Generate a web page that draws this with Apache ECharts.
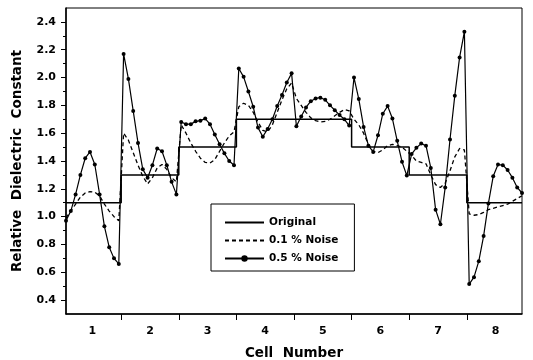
<!DOCTYPE html>
<html>
<head>
<meta charset="utf-8">
<script src="https://cdn.jsdelivr.net/npm/echarts@6/dist/echarts.min.js"></script>
<style>
  html, body { margin: 0; padding: 0; background: #fff; }
  #chart { width: 533px; height: 360px; }
</style>
</head>
<body>
<div id="chart"></div>
<script>
// ---- data ----
const cells = ['1', '2', '3', '4', '5', '6', '7', '8'];
const pointsPerCell = 12;
const originalLevels = [1.1, 1.3, 1.5, 1.7, 1.7, 1.5, 1.3, 1.1];
const noise01 = [
  0.99, 1.04, 1.09, 1.14, 1.17, 1.18, 1.175, 1.15, 1.09, 1.04, 1.00, 0.97,
  1.60, 1.55, 1.46, 1.37, 1.29, 1.235, 1.28, 1.35, 1.375, 1.34, 1.28, 1.25,
  1.66, 1.60, 1.53, 1.47, 1.42, 1.39, 1.385, 1.41, 1.47, 1.53, 1.58, 1.61,
  1.79, 1.815, 1.80, 1.75, 1.68, 1.62, 1.61, 1.66, 1.75, 1.84, 1.92, 1.96,
  1.85, 1.80, 1.75, 1.71, 1.69, 1.68, 1.685, 1.70, 1.725, 1.75, 1.77, 1.76,
  1.70, 1.66, 1.60, 1.52, 1.47, 1.46, 1.48, 1.51, 1.52, 1.51, 1.50, 1.47,
  1.44, 1.40, 1.39, 1.38, 1.30, 1.23, 1.21, 1.24, 1.33, 1.43, 1.49, 1.48,
  1.02, 1.01, 1.015, 1.03, 1.05, 1.06, 1.07, 1.08, 1.09, 1.11, 1.13, 1.15
];
const noise05 = [
  0.97, 1.04, 1.16, 1.30, 1.42, 1.465, 1.375, 1.16, 0.93, 0.78, 0.70, 0.66,
  2.17, 1.99, 1.76, 1.53, 1.34, 1.28, 1.37, 1.49, 1.47, 1.37, 1.25, 1.16,
  1.68, 1.665, 1.665, 1.685, 1.69, 1.705, 1.665, 1.59, 1.52, 1.455, 1.40, 1.37,
  2.065, 2.005, 1.90, 1.79, 1.64, 1.575, 1.63, 1.70, 1.795, 1.875, 1.965, 2.03,
  1.65, 1.72, 1.785, 1.83, 1.85, 1.855, 1.84, 1.80, 1.765, 1.73, 1.70, 1.655,
  2.00, 1.845, 1.645, 1.51, 1.465, 1.585, 1.74, 1.795, 1.705, 1.545, 1.395, 1.295,
  1.45, 1.495, 1.525, 1.51, 1.35, 1.05, 0.945, 1.21, 1.555, 1.87, 2.145, 2.33,
  0.515, 0.565, 0.68, 0.86, 1.095, 1.29, 1.375, 1.37, 1.335, 1.28, 1.21, 1.17
];
const yTickLabels = ['0.4', '0.6', '0.8', '1.0', '1.2', '1.4', '1.6', '1.8', '2.0', '2.2', '2.4'];
const seriesNames = ['Original', '0.1 % Noise', '0.5 % Noise'];

// ---- derived structures ----
const nPts = cells.length * pointsPerCell;
const xMax = nPts - 1;
const idx = (arr) => arr.map((v, i) => [i, v]);
const stepData = [];
originalLevels.forEach((lv, k) => {
  const x0 = Math.max(0, k * pointsPerCell - 0.5);
  const x1 = Math.min(xMax, k * pointsPerCell + pointsPerCell - 0.5);
  stepData.push([x0, lv], [x1, lv]);
});
const tickPos = cells.slice(1).map((c, k) => (k + 1) * pointsPerCell - 0.5);
const labelPos = cells.map((c, k) => k * pointsPerCell + (pointsPerCell - 1) / 2);
const yMajor = yTickLabels.map(Number);
const yMinor = yMajor.slice(0, -1).map((v) => +(v + 0.1).toFixed(2));

const FONT = 'DejaVu Sans';
const black = '#000';

const chart = echarts.init(document.getElementById('chart'), null, { renderer: 'canvas' });
chart.setOption({
  animation: false,
  backgroundColor: '#fff',
  grid: {
    left: 66, right: 11, top: 8, bottom: 46,
    outerBoundsMode: 'none', containLabel: false,
    show: true, borderColor: black, borderWidth: 1, backgroundColor: 'transparent'
  },
  legend: {
    data: [
      { name: seriesNames[0], itemStyle: { opacity: 0 } },
      { name: seriesNames[1], itemStyle: { opacity: 0 } },
      { name: seriesNames[2] }
    ],
    orient: 'vertical',
    left: 211, top: 204,
    padding: [13, 16, 7, 13],
    itemWidth: 39, itemHeight: 8, itemGap: 7,
    borderColor: black, borderWidth: 1,
    backgroundColor: '#fff',
    textStyle: { fontFamily: FONT, fontSize: 10.5, fontWeight: 'bold', color: black }
  },
  xAxis: {
    type: 'value', min: 0, max: xMax,
    name: 'Cell  Number', nameLocation: 'middle', nameGap: 32,
    nameTextStyle: { fontFamily: FONT, fontSize: 13.5, fontWeight: 'bold', color: black },
    axisLine: { show: true, lineStyle: { color: black, width: 1.5 } },
    axisTick: { show: true, customValues: tickPos, length: 6, lineStyle: { color: black, width: 1 } },
    axisLabel: {
      customValues: labelPos, margin: 12,
      fontFamily: FONT, fontSize: 11, fontWeight: 'bold', color: black,
      formatter: (v) => cells[Math.round((v - (pointsPerCell - 1) / 2) / pointsPerCell)]
    },
    splitLine: { show: false }
  },
  yAxis: [{
    type: 'value', min: 0.3, max: 2.5, position: 'left',
    name: 'Relative  Dielectric  Constant', nameLocation: 'middle', nameGap: 42,
    nameTextStyle: { fontFamily: FONT, fontSize: 13.5, fontWeight: 'bold', color: black },
    axisLine: { show: true, lineStyle: { color: black, width: 1.5 } },
    axisTick: { show: true, customValues: yMajor, length: 5, lineStyle: { color: black, width: 1 } },
    axisLabel: {
      customValues: yMajor, margin: 10,
      fontFamily: FONT, fontSize: 11, fontWeight: 'bold', color: black,
      formatter: (v) => v.toFixed(1)
    },
    splitLine: { show: false }
  }, {
    type: 'value', min: 0.3, max: 2.5, position: 'left', offset: 0,
    axisLine: { show: false },
    axisTick: { show: true, customValues: yMinor, length: 3, lineStyle: { color: black, width: 1 } },
    axisLabel: { show: false },
    splitLine: { show: false }
  }],
  series: [{
    name: seriesNames[0], type: 'line', data: stepData,
    symbol: 'none', lineStyle: { color: black, width: 1.5 }, itemStyle: { color: black }, z: 3
  }, {
    name: seriesNames[1], type: 'line', data: idx(noise01),
    symbol: 'none', lineStyle: { color: black, width: 1.3, type: [4, 3] }, itemStyle: { color: black }, z: 2
  }, {
    name: seriesNames[2], type: 'line', data: idx(noise05),
    symbol: 'circle', symbolSize: 4, showAllSymbol: true,
    lineStyle: { color: black, width: 1.2 }, itemStyle: { color: black }, z: 4
  }]
});
</script>
</body>
</html>
